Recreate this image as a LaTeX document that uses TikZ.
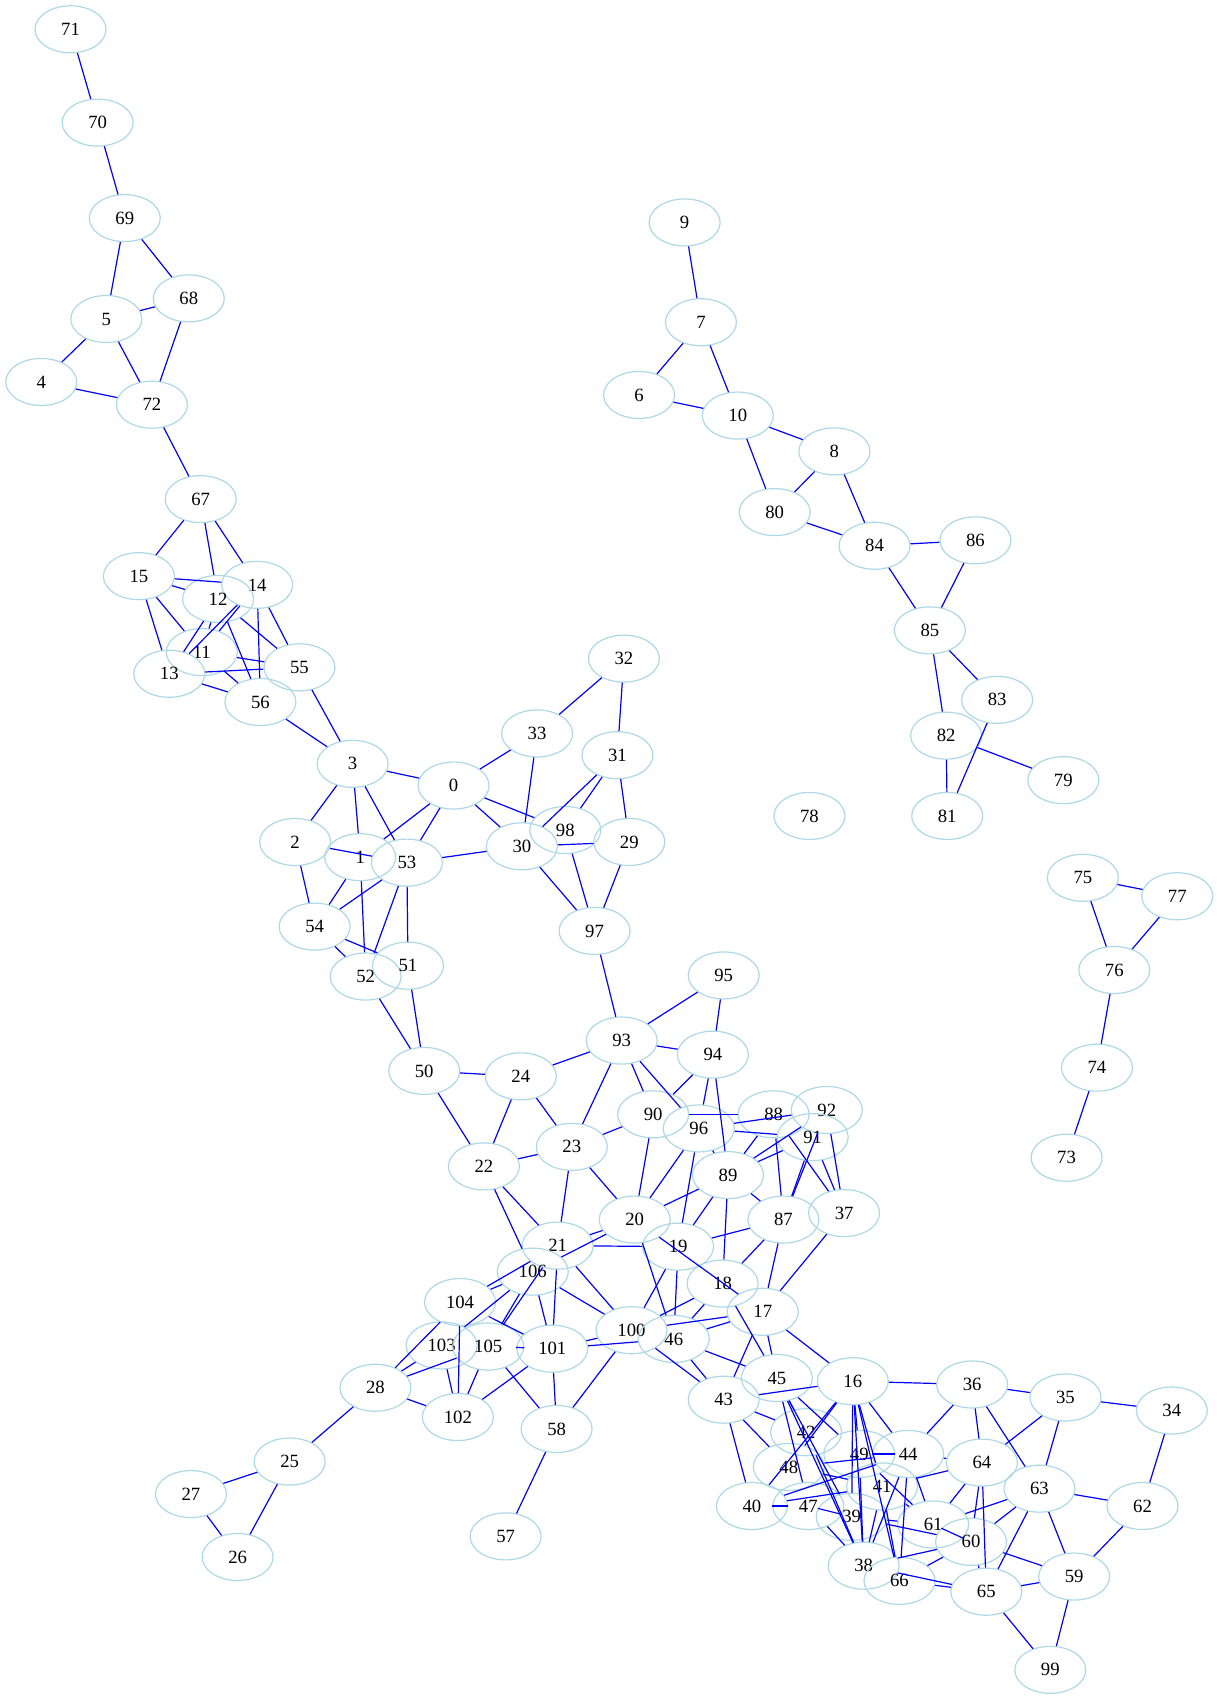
\documentclass[tikz,border=0pt]{standalone}
\usepackage{fontspec}
\setmainfont{Liberation Serif}
\usetikzlibrary{shapes.geometric}
\definecolor{lightblue}{HTML}{ADD8E6}

\begin{document}
\begin{tikzpicture}[x=1.085pt,y=-1.085pt,
  vtx/.style={ellipse,draw=lightblue,line width=1.2pt,minimum width=71pt,minimum height=47pt,inner sep=0pt,font=\fontsize{18.7}{20}\selectfont},
  lnk/.style={draw=blue,line width=1.2pt}]
        \useasboundingbox (0,0) rectangle (1121.7,1566.8);
        % vertices
        \foreach \n/\x/\y in {71/65/27,70/90/113,69/115/201,68/174/275,5/98/294,4/38/352,72/140/373,67/185/460,
          15/128/531,14/237/539,12/201/552,11/186/601,13/156/621,55/276/615,56/240/647,3/325/704,0/418/724,
          2/272/776,1/332/790,53/375/795,54/290/854,52/337/900,51/376/890,50/391/987,33/495/676,32/575/607,
          31/569/696,30/481/780,98/521/765,29/580/776,97/548/858,95/667/899,93/573/959,94/657/972,24/480/992,
          90/602/1027,96/644/1040,88/713/1027,92/762/1023,91/749/1048,23/527/1057,22/446/1075,89/671/1083,
          87/722/1124,37/778/1118,20/585/1124,21/514/1148,19/625/1149,106/491/1172,18/666/1183,17/703/1209,
          104/424/1200,100/582/1226,46/621/1234,103/407/1240,105/450/1241,101/509/1243,28/346/1279,102/422/1306,
          58/513/1317,45/716/1270,16/786/1273,36/896/1276,35/982/1288,34/1080/1300,43/667/1290,42/743/1320,
          49/792/1340,44/837/1340,64/905/1348,48/727/1352,41/813/1370,63/958/1372,62/1053/1388,40/693/1388,
          47/745/1388,39/785/1398,61/860/1405,60/895/1421,38/796/1443,66/829/1457,65/909/1467,59/990/1453,
          99/968/1539,25/267/1347,27/176/1377,26/219/1435,57/466/1416,9/631/205,7/646/297,6/589/364,10/680/383,
          8/769/416,80/714/472,84/806/503,86/899/498,85/857/581,83/919/645,82/872/678,79/980/719,81/873/752,
          78/746/752,75/998/809,77/1085/826,76/1027/894,74/1011/984,73/983/1067}
          \node[vtx] (n\n) at (\x,\y) {\n};
        % links
        \foreach \a/\b in {71/70,70/69,69/5,69/68,68/5,68/72,5/4,5/72,4/72,72/67,67/15,67/12,67/14,15/14,15/12,
          15/11,15/13,12/13,12/11,14/13,14/11,12/56,12/55,14/56,14/55,11/55,13/55,11/56,13/56,56/3,55/3,
          3/0,3/2,3/1,3/53,0/1,0/53,0/30,0/98,0/33,33/30,32/33,32/31,31/98,31/30,31/29,30/29,30/97,98/97,29/97,
          2/53,2/54,1/54,53/54,1/52,53/52,53/51,53/30,54/51,54/52,52/50,51/50,97/93,50/24,24/93,50/22,24/22,
          24/23,22/23,22/21,22/106,93/95,93/94,93/90,93/96,93/23,94/95,94/90,94/96,94/89,90/23,90/20,90/88,
          96/92,96/91,96/89,96/20,96/19,88/89,89/92,89/91,88/87,88/37,92/37,91/37,92/87,91/87,89/87,89/20,
          89/19,89/18,87/19,87/18,87/17,37/17,23/20,23/21,20/21,20/106,21/19,20/46,20/17,19/100,19/46,18/100,
          18/46,17/100,17/46,17/45,17/43,17/16,18/45,46/45,46/43,100/43,21/101,106/101,21/100,106/100,101/100,
          101/46,101/102,101/58,105/58,100/58,21/104,106/104,106/103,21/105,106/105,104/101,104/28,104/102,
          103/28,105/28,103/102,105/102,105/101,28/102,28/25,25/27,25/26,27/26,58/57,
          16/36,16/43,16/44,16/48,16/40,16/49,16/38,16/39,16/66,16/41,45/42,45/47,45/38,45/49,45/39,43/42,
          43/48,43/40,48/44,48/41,40/41,40/47,40/44,47/39,47/38,49/44,49/61,49/38,41/38,41/66,41/61,44/61,
          44/64,44/66,44/38,36/44,36/64,36/35,36/63,35/64,35/63,35/34,34/62,62/63,62/59,63/59,63/65,63/60,
          63/61,64/60,64/65,64/61,64/41,61/60,60/59,65/59,59/99,65/99,60/65,66/65,38/65,38/60,39/61,39/60,
          66/60,42/38,9/7,7/6,7/10,6/10,10/8,10/80,8/80,8/84,80/84,84/86,84/85,86/85,85/83,85/82,82/79,82/81,
          83/81,75/77,75/76,77/76,76/74,74/73}
          \draw[lnk] (n\a) -- (n\b);
\end{tikzpicture}
\end{document}
